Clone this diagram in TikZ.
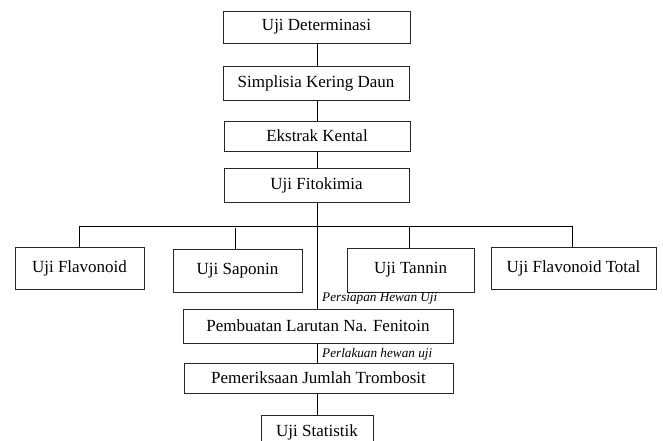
\documentclass[tikz,border=0pt]{standalone}
\usepackage{fontspec}
\setmainfont{Liberation Serif}
\begin{document}
\begin{tikzpicture}[x=1pt,y=-1pt,
  box/.style={draw=black!85,line width=0.9pt,inner sep=0pt,
    font=\fontsize{17}{19}\selectfont},
  conn/.style={draw=black,line width=0.9pt},
  lbl/.style={anchor=west,inner sep=0pt,font=\fontsize{13.2}{15}\selectfont\itshape}]
\useasboundingbox (0,0) rectangle (663,441);
\clip (0,0) rectangle (663,441);
\node[box,minimum width=187pt,minimum height=32pt] (det) at (316.5,27) {Uji Determinasi};
\node[box,minimum width=186pt,minimum height=34pt] (simp) at (316,83) {Simplisia Kering Daun};
\node[box,minimum width=186pt,minimum height=30pt] (eks) at (317,136) {Ekstrak Kental};
\node[box,minimum width=185pt,minimum height=34pt] (fito) at (316.5,185) {Uji Fitokimia};
\node[box,minimum width=129pt,minimum height=42pt] (flav) at (79.5,268) {Uji Flavonoid};
\node[box,minimum width=129pt,minimum height=43pt] (sap) at (237.5,270.5) {Uji Saponin};
\node[box,minimum width=127pt,minimum height=44pt] (tan) at (410.5,270) {Uji Tannin};
\node[box,minimum width=165pt,minimum height=42pt] (ftot) at (573.5,268) {Uji Flavonoid Total};
\node[box,minimum width=270pt,minimum height=34pt] (pemb) at (318,326) {Pembuatan Larutan Na. Fenitoin};
\node[box,minimum width=269pt,minimum height=30pt] (peri) at (318.5,378) {Pemeriksaan Jumlah Trombosit};
\node[box,minimum width=112pt,minimum height=34pt] (stat) at (317,432) {Uji Statistik};
\coordinate (bus) at (317,226);
\draw[conn] (det.south -| 317,0) -- (simp.north -| 317,0);
\draw[conn] (simp.south -| 317,0) -- (eks.north -| 317,0);
\draw[conn] (eks.south -| 317,0) -- (fito.north -| 317,0);
\draw[conn] (fito.south -| 317,0) -- (pemb.north -| 317,0);
\draw[conn] (79,0 |- flav.north) -- (79,0 |- bus) -- (572,0 |- bus) -- (572,0 |- ftot.north);
\draw[conn] (235,0 |- sap.north) -- (235,228);
\draw[conn] (409,0 |- tan.north) -- (409,0 |- bus);
\draw[conn] (pemb.south -| 317,0) -- (peri.north -| 317,0);
\draw[conn] (peri.south -| 317,0) -- (stat.north -| 317,0);
\node[lbl] (l1) at (322,299) {Persiapan Hewan Uji};
\node[lbl] (l2) at (322,354) {Perlakuan hewan uji};
\end{tikzpicture}
\end{document}
